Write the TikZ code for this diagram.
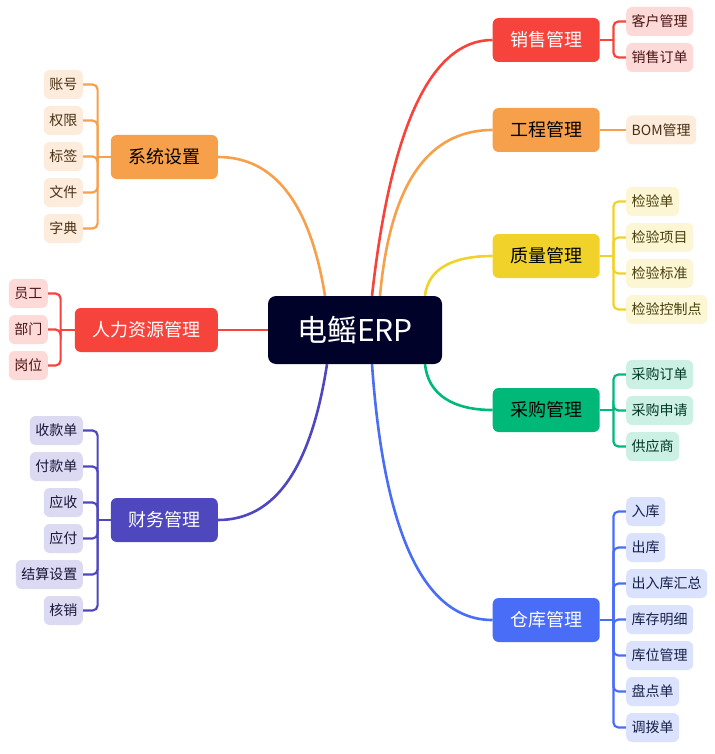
\documentclass[tikz,border=0pt]{standalone}
\usepackage{fontspec}
\setmainfont{Noto Sans CJK SC}
\usetikzlibrary{backgrounds}
\definecolor{erpnavy}{HTML}{00022A}
\definecolor{salesred}{HTML}{F6443C}
\definecolor{engorange}{HTML}{F7A04B}
\definecolor{qcyellow}{HTML}{F1D22A}
\definecolor{buygreen}{HTML}{00B979}
\definecolor{storeblue}{HTML}{4A6DF8}
\definecolor{finpurple}{HTML}{4F47BE}
\tikzset{
  topic/.style={rounded corners=6pt, minimum height=44pt, inner xsep=17.5pt, inner ysep=0pt, font=\fontsize{18}{20}\selectfont},
  item/.style={rounded corners=6pt, minimum height=29pt, inner xsep=5.5pt, inner ysep=0pt, fill=#1!20, text=#1!30!black, font=\fontsize{14}{16}\selectfont},
  topicline/.style={line width=2.6pt, draw=#1},
  itemline/.style={line width=2.2pt, rounded corners=5pt, draw=#1}
}
\begin{document}
\begin{tikzpicture}[x=1pt,y=-1pt]
\useasboundingbox (0,0) rectangle (714,754);
% centre
\node[fill=erpnavy, text=white, rounded corners=8pt, minimum width=174pt, minimum height=68pt, font=\fontsize{30}{34}\selectfont] (erp) at (355,330) {电鳐ERP};
% right topics
\node[topic, fill=salesred, text=white, anchor=west] (sales) at (492.5,40) {销售管理};
\node[topic, fill=engorange, anchor=west] (eng) at (492.5,130) {工程管理};
\node[topic, fill=qcyellow, anchor=west] (qc) at (492.5,256) {质量管理};
\node[topic, fill=buygreen, anchor=west] (buy) at (492.5,410) {采购管理};
\node[topic, fill=storeblue, text=white, anchor=west] (store) at (492.5,620) {仓库管理};
% left topics
\node[topic, fill=engorange, anchor=east] (sys) at (218,157) {系统设置};
\node[topic, fill=salesred, text=white, anchor=east] (hr) at (218,330) {人力资源管理};
\node[topic, fill=finpurple, text=white, anchor=east] (fin) at (218,520) {财务管理};
% items, right
\node[item=salesred, anchor=west] (s1) at (626,21.5) {客户管理};
\node[item=salesred, anchor=west] (s2) at (626,57.5) {销售订单};
\node[item=engorange, anchor=west] (e1) at (626,130) {BOM管理};
\node[item=qcyellow, anchor=west] (q1) at (626,201.5) {检验单};
\node[item=qcyellow, anchor=west] (q2) at (626,237.5) {检验项目};
\node[item=qcyellow, anchor=west] (q3) at (626,273.5) {检验标准};
\node[item=qcyellow, anchor=west] (q4) at (626,309.5) {检验控制点};
\node[item=buygreen, anchor=west] (b1) at (626,374.5) {采购订单};
\node[item=buygreen, anchor=west] (b2) at (626,410.5) {采购申请};
\node[item=buygreen, anchor=west] (b3) at (626,446.5) {供应商};
\node[item=storeblue, anchor=west] (w1) at (626,511.5) {入库};
\node[item=storeblue, anchor=west] (w2) at (626,547.5) {出库};
\node[item=storeblue, anchor=west] (w3) at (626,583.5) {出入库汇总};
\node[item=storeblue, anchor=west] (w4) at (626,619.5) {库存明细};
\node[item=storeblue, anchor=west] (w5) at (626,655.5) {库位管理};
\node[item=storeblue, anchor=west] (w6) at (626,691.5) {盘点单};
\node[item=storeblue, anchor=west] (w7) at (626,727.5) {调拨单};
% items, left
\node[item=engorange, anchor=east] (y1) at (83,84.5) {账号};
\node[item=engorange, anchor=east] (y2) at (83,120.5) {权限};
\node[item=engorange, anchor=east] (y3) at (83,156.5) {标签};
\node[item=engorange, anchor=east] (y4) at (83,192.5) {文件};
\node[item=engorange, anchor=east] (y5) at (83,228.5) {字典};
\node[item=salesred, anchor=east] (h1) at (48,293.5) {员工};
\node[item=salesred, anchor=east] (h2) at (48,329.5) {部门};
\node[item=salesred, anchor=east] (h3) at (48,365.5) {岗位};
\node[item=finpurple, anchor=east] (f1) at (83,430.5) {收款单};
\node[item=finpurple, anchor=east] (f2) at (83,466.5) {付款单};
\node[item=finpurple, anchor=east] (f3) at (83,502.5) {应收};
\node[item=finpurple, anchor=east] (f4) at (83,538.5) {应付};
\node[item=finpurple, anchor=east] (f5) at (83,574.5) {结算设置};
\node[item=finpurple, anchor=east] (f6) at (83,610.5) {核销};
\begin{scope}[on background layer]
% centre to topics
\draw[topicline=salesred] ([xshift=17]erp.north) .. controls +(19,-171) and +(-61,0) .. (sales.west);
\draw[topicline=engorange] ([xshift=25]erp.north) .. controls +(10,-111) and +(-65,0) .. (eng.west);
\draw[topicline=qcyellow] ([xshift=70]erp.north) .. controls +(3,-27) and +(-40,0) .. (qc.west);
\draw[topicline=buygreen] ([xshift=70]erp.south) .. controls +(3,30) and +(-40,0) .. (buy.west);
\draw[topicline=storeblue] ([xshift=17]erp.south) .. controls +(12,171) and +(-68,0) .. (store.west);
\draw[topicline=engorange] ([xshift=-30]erp.north) .. controls +(-15,-93) and +(56,0) .. (sys.east);
\draw[topicline=salesred] (erp.west) -- (hr.east);
\draw[topicline=finpurple] ([xshift=-28]erp.south) .. controls +(-16,104) and +(57,0) .. (fin.east);
% topics to items
\draw[itemline=salesred] (sales.east) -- ++(13.5,0);
\draw[itemline=salesred] ([xshift=13.5]sales.east) |- (s1.west);
\draw[itemline=salesred] ([xshift=13.5]sales.east) |- (s2.west);
\draw[itemline=engorange] (eng.east) -- (e1.west);
\draw[itemline=qcyellow] (qc.east) -- ++(13.5,0);
\draw[itemline=qcyellow] ([xshift=13.5]qc.east) |- (q1.west);
\draw[itemline=qcyellow] ([xshift=13.5]qc.east) |- (q2.west);
\draw[itemline=qcyellow] ([xshift=13.5]qc.east) |- (q3.west);
\draw[itemline=qcyellow] ([xshift=13.5]qc.east) |- (q4.west);
\draw[itemline=buygreen] (buy.east) -- ++(13.5,0);
\draw[itemline=buygreen] ([xshift=13.5]buy.east) |- (b1.west);
\draw[itemline=buygreen] ([xshift=13.5]buy.east) |- (b2.west);
\draw[itemline=buygreen] ([xshift=13.5]buy.east) |- (b3.west);
\draw[itemline=storeblue] (store.east) -- ++(13.5,0);
\draw[itemline=storeblue] ([xshift=13.5]store.east) |- (w1.west);
\draw[itemline=storeblue] ([xshift=13.5]store.east) |- (w2.west);
\draw[itemline=storeblue] ([xshift=13.5]store.east) |- (w3.west);
\draw[itemline=storeblue] ([xshift=13.5]store.east) |- (w4.west);
\draw[itemline=storeblue] ([xshift=13.5]store.east) |- (w5.west);
\draw[itemline=storeblue] ([xshift=13.5]store.east) |- (w6.west);
\draw[itemline=storeblue] ([xshift=13.5]store.east) |- (w7.west);
\draw[itemline=engorange] (sys.west) -- ++(-13,0);
\draw[itemline=engorange] ([xshift=-13]sys.west) |- (y1.east);
\draw[itemline=engorange] ([xshift=-13]sys.west) |- (y2.east);
\draw[itemline=engorange] ([xshift=-13]sys.west) |- (y3.east);
\draw[itemline=engorange] ([xshift=-13]sys.west) |- (y4.east);
\draw[itemline=engorange] ([xshift=-13]sys.west) |- (y5.east);
\draw[itemline=salesred] (hr.west) -- ++(-14,0);
\draw[itemline=salesred] ([xshift=-14]hr.west) |- (h1.east);
\draw[itemline=salesred] ([xshift=-14]hr.west) |- (h2.east);
\draw[itemline=salesred] ([xshift=-14]hr.west) |- (h3.east);
\draw[itemline=finpurple] (fin.west) -- ++(-13,0);
\draw[itemline=finpurple] ([xshift=-13]fin.west) |- (f1.east);
\draw[itemline=finpurple] ([xshift=-13]fin.west) |- (f2.east);
\draw[itemline=finpurple] ([xshift=-13]fin.west) |- (f3.east);
\draw[itemline=finpurple] ([xshift=-13]fin.west) |- (f4.east);
\draw[itemline=finpurple] ([xshift=-13]fin.west) |- (f5.east);
\draw[itemline=finpurple] ([xshift=-13]fin.west) |- (f6.east);
\end{scope}
\end{tikzpicture}
\end{document}
